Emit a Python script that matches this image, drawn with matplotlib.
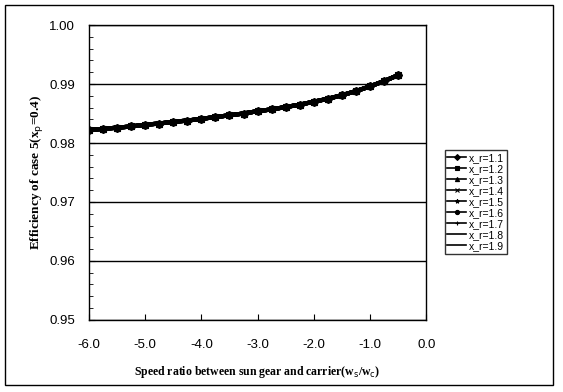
import matplotlib
matplotlib.use("Agg")
import matplotlib.pyplot as plt
from matplotlib.patches import Rectangle
from matplotlib.ticker import MultipleLocator, FormatStrFormatter

# speed ratio ws/wc
speed_ratio = [-6.0, -5.75, -5.5, -5.25, -5.0, -4.75, -4.5, -4.25, -4.0, -3.75, -3.5, -3.25,
               -3.0, -2.75, -2.5, -2.25, -2.0, -1.75, -1.5, -1.25, -1.0, -0.75, -0.5]

# efficiency, all x_r curves lie on top of each other
efficiency = [0.9822, 0.9824, 0.9826, 0.9828, 0.9831, 0.9833, 0.9836, 0.9838, 0.9841, 0.9844,
              0.9847, 0.9850, 0.9854, 0.9857, 0.9861, 0.9865, 0.9870, 0.9875, 0.9881, 0.9888,
              0.9896, 0.9905, 0.9915]

xr_labels = ["x_r=1.1", "x_r=1.2", "x_r=1.3", "x_r=1.4", "x_r=1.5",
             "x_r=1.6", "x_r=1.7", "x_r=1.8", "x_r=1.9"]
markers = ["D", "s", "^", "x", "*", "o", "+", "", ""]
msizes = [3, 3, 3.5, 3, 3.5, 4, 4, 0, 0]

fig = plt.figure(figsize=(5.63, 3.92), dpi=100)
ax = fig.add_axes([0.158, 0.184, 0.599, 0.752])

for lab, m, ms in zip(xr_labels, markers, msizes):
    ax.plot(speed_ratio, efficiency, color="black", lw=3, marker=m, ms=ms + 1,
            markeredgewidth=0.8, label=lab)

ax.set_xlim(-6, 0)
ax.set_ylim(0.95, 1.0)
ax.xaxis.set_major_locator(MultipleLocator(1))
ax.xaxis.set_major_formatter(FormatStrFormatter("%.1f"))
ax.yaxis.set_major_locator(MultipleLocator(0.01))
ax.yaxis.set_minor_locator(MultipleLocator(0.002))
ax.yaxis.set_major_formatter(FormatStrFormatter("%.2f"))
for t in ax.get_xticklabels() + ax.get_yticklabels():
    t.set_family("Liberation Sans")
ax.tick_params(axis="both", which="both", direction="in", labelsize=9.5)
ax.tick_params(axis="x", pad=14)
ax.tick_params(axis="y", pad=10)
ax.tick_params(axis="y", which="minor", length=3)
ax.tick_params(axis="both", which="major", length=4)
ax.grid(axis="y", which="major", color="black", lw=1)
for s in ax.spines.values():
    s.set_linewidth(1)

ax.set_ylabel(r"Efficiency of case 5(x$_\mathrm{p}$=0.4)", family="Liberation Serif",
              weight="bold", size=9.5, labelpad=3)
ax.set_xlabel(r"Speed ratio between sun gear and carrier(w$_\mathrm{s}$/w$_\mathrm{c}$)",
              family="Liberation Serif", weight="bold", size=8.5, labelpad=9)

leg = fig.legend(loc="center left", bbox_to_anchor=(0.79, 0.485),
                 prop={"family": "Liberation Sans", "size": 7.5},
                 frameon=True, fancybox=False, edgecolor="black", labelspacing=0.1,
                 handlelength=1.8, borderpad=0.25, handletextpad=0.3, borderaxespad=0)
leg.get_frame().set_linewidth(1)
for h in leg.get_lines():
    h.set_linewidth(1.2)
    h.set_markersize(3)

# outer chart border
fig.patches.append(Rectangle((0.009, 0.018), 0.973, 0.97, transform=fig.transFigure,
                             fill=False, edgecolor="black", lw=1))

fig.savefig("out.png", dpi=100)
